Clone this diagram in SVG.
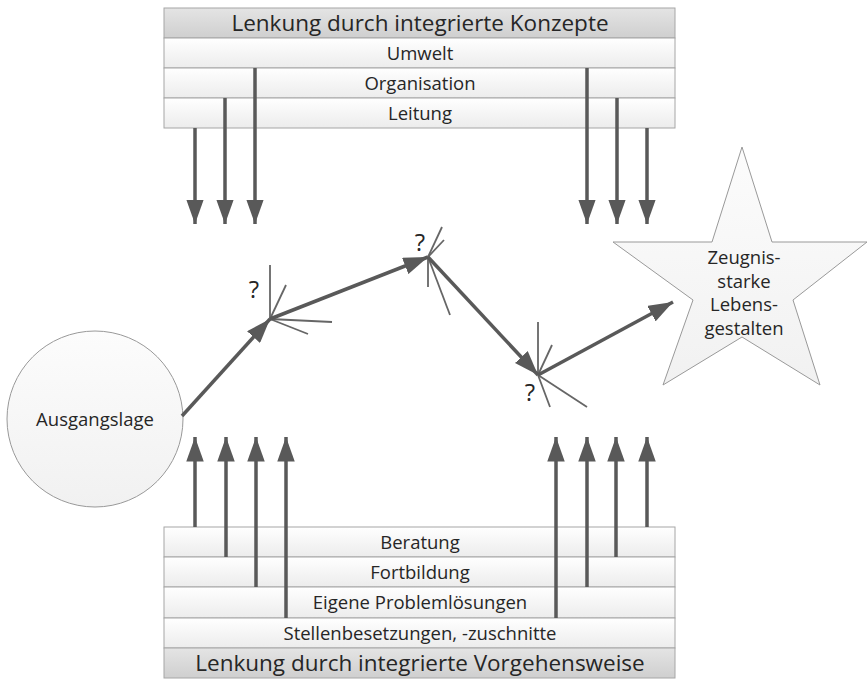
<svg xmlns="http://www.w3.org/2000/svg" width="868" height="679" viewBox="0 0 868 679">
  <defs>
    <linearGradient id="rowFill" x1="0" y1="0" x2="0" y2="1">
      <stop offset="0" stop-color="#ffffff"/>
      <stop offset="1" stop-color="#ececec"/>
    </linearGradient>
    <linearGradient id="headFill" x1="0" y1="0" x2="0" y2="1">
      <stop offset="0" stop-color="#e4e4e4"/>
      <stop offset="1" stop-color="#cfcfcf"/>
    </linearGradient>
    <linearGradient id="shapeFill" x1="0" y1="0" x2="0" y2="1">
      <stop offset="0" stop-color="#fcfcfc"/>
      <stop offset="1" stop-color="#f1f1f1"/>
    </linearGradient>
    <marker id="head" viewBox="0 0 14 10" refX="14" refY="5" markerWidth="7" markerHeight="5" markerUnits="strokeWidth" orient="auto">
      <path d="M0,0 L14,5 L0,10 Z" fill="#595959"/>
    </marker>
  </defs>
  <style>
    .row { fill: url(#rowFill); stroke: #a6a6a6; stroke-width: 1; }
    .head { fill: url(#headFill); stroke: #a6a6a6; stroke-width: 1; }
    .shape { fill: url(#shapeFill); stroke: #999999; stroke-width: 1; }
    .t { font-family: "Open Sans", "Liberation Sans", sans-serif; fill: #262626; text-anchor: middle; }
    .big { font-size: 22.5px; }
    .mid { font-size: 18.5px; }
    .q { font-family: "Open Sans", "Liberation Sans", sans-serif; font-size: 24px; fill: #262626; text-anchor: middle; }
    .arrow { stroke: #595959; stroke-width: 3.5; fill: none; marker-end: url(#head); }
    .ray { stroke: #666666; stroke-width: 1.8; fill: none; }
  </style>

  <!-- upper steering block -->
  <g id="top-block">
    <rect class="head" x="164" y="8" width="511" height="30"/>
    <text class="t big" x="420" y="31">Lenkung durch integrierte Konzepte</text>
    <rect class="row" x="164" y="38" width="511" height="30"/>
    <text class="t mid" x="420" y="60">Umwelt</text>
    <rect class="row" x="164" y="68" width="511" height="30"/>
    <text class="t mid" x="420" y="90">Organisation</text>
    <rect class="row" x="164" y="98" width="511" height="30"/>
    <text class="t mid" x="420" y="120">Leitung</text>
  </g>

  <!-- lower steering block -->
  <g id="bottom-block">
    <rect class="row" x="164" y="527" width="511" height="30"/>
    <text class="t mid" x="420" y="549">Beratung</text>
    <rect class="row" x="164" y="557" width="511" height="30"/>
    <text class="t mid" x="420" y="579">Fortbildung</text>
    <rect class="row" x="164" y="587" width="511" height="31"/>
    <text class="t mid" x="420" y="609">Eigene Problemlösungen</text>
    <rect class="row" x="164" y="618" width="511" height="30"/>
    <text class="t mid" x="420" y="640">Stellenbesetzungen, -zuschnitte</text>
    <rect class="head" x="164" y="648" width="511" height="30"/>
    <text class="t big" x="420" y="671">Lenkung durch integrierte Vorgehensweise</text>
  </g>

  <!-- starting point -->
  <g id="start">
    <circle class="shape" cx="95" cy="419" r="88"/>
    <text class="t mid" x="95" y="426">Ausgangslage</text>
  </g>

  <!-- goal -->
  <g id="goal">
    <polygon class="shape" points="742,147 772,242 867,242 793,300 820,385 742,337 663,385 693,300 613,242 712,242"/>
    <text class="t mid" x="744" y="264">Zeugnis-</text>
    <text class="t mid" x="744" y="288">starke</text>
    <text class="t mid" x="744" y="311">Lebens-</text>
    <text class="t mid" x="744" y="335">gestalten</text>
  </g>

  <!-- decision points -->
  <g id="junction-1">
    <line class="ray" x1="270" y1="319" x2="270" y2="265"/>
    <line class="ray" x1="270" y1="319" x2="286" y2="285"/>
    <line class="ray" x1="270" y1="319" x2="332" y2="322"/>
    <line class="ray" x1="270" y1="319" x2="308" y2="334"/>
    <text class="q" x="254" y="298">?</text>
  </g>
  <g id="junction-2">
    <line class="ray" x1="428" y1="257" x2="442" y2="227"/>
    <line class="ray" x1="428" y1="257" x2="444" y2="240"/>
    <line class="ray" x1="428" y1="257" x2="428" y2="287"/>
    <line class="ray" x1="428" y1="257" x2="450" y2="315"/>
    <text class="q" x="420" y="251">?</text>
  </g>
  <g id="junction-3">
    <line class="ray" x1="538" y1="375" x2="538" y2="322"/>
    <line class="ray" x1="538" y1="375" x2="552" y2="345"/>
    <line class="ray" x1="538" y1="375" x2="550" y2="407"/>
    <line class="ray" x1="538" y1="375" x2="587" y2="407"/>
    <text class="q" x="530" y="401">?</text>
  </g>

  <!-- connectors -->
  <g id="connectors">
    <!-- path of development -->
    <line class="arrow" x1="182" y1="416" x2="270" y2="319"/>
    <line class="arrow" x1="270" y1="319" x2="428" y2="257"/>
    <line class="arrow" x1="428" y1="257" x2="538" y2="375"/>
    <line class="arrow" x1="538" y1="375" x2="673" y2="302"/>
    <!-- influences from above -->
    <line class="arrow" x1="195" y1="128" x2="195" y2="224"/>
    <line class="arrow" x1="225" y1="98" x2="225" y2="224"/>
    <line class="arrow" x1="255" y1="68" x2="255" y2="224"/>
    <line class="arrow" x1="587" y1="68" x2="587" y2="224"/>
    <line class="arrow" x1="617" y1="98" x2="617" y2="224"/>
    <line class="arrow" x1="647" y1="128" x2="647" y2="224"/>
    <!-- influences from below -->
    <line class="arrow" x1="195" y1="527" x2="195" y2="437"/>
    <line class="arrow" x1="226" y1="557" x2="226" y2="437"/>
    <line class="arrow" x1="256" y1="587" x2="256" y2="437"/>
    <line class="arrow" x1="286" y1="618" x2="286" y2="437"/>
    <line class="arrow" x1="556" y1="618" x2="556" y2="437"/>
    <line class="arrow" x1="587" y1="587" x2="587" y2="437"/>
    <line class="arrow" x1="616" y1="557" x2="616" y2="437"/>
    <line class="arrow" x1="647" y1="527" x2="647" y2="437"/>
  </g>
</svg>
